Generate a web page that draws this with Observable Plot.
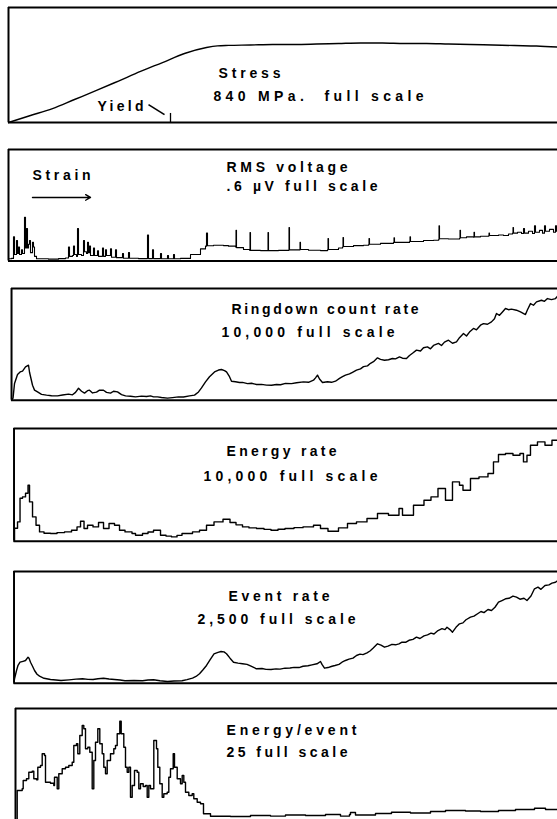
<!DOCTYPE html>
<html>
<head>
<meta charset="utf-8">
<script src="https://cdn.jsdelivr.net/npm/d3@7"></script>
<script src="https://cdn.jsdelivr.net/npm/@observablehq/plot@0.6"></script>
<style>
  html, body { margin: 0; padding: 0; background: #fff; overflow: hidden; }
  body { position: relative; width: 557px; height: 819px; }
  svg text { white-space: pre; }
</style>
</head>
<body>
<script>
// ---------- DATA (strain in chart units from the left border; values in physical units) ----------
const panelTitles = ["Stress", "RMS voltage", "Ringdown count rate", "Energy rate", "Event rate", "Energy/event"];
const fullScaleLabels = ["840 MPa.  full scale", ".6 \u00b5V full scale", "10,000 full scale", "10,000 full scale", "2,500 full scale", "25 full scale"];
const fullScales = [840, 0.6, 10000, 10000, 2500, 25];

// Stress (MPa)
const stressStrain = [0, 22, 44, 66, 88, 110, 132, 154, 176, 198, 209, 220, 242, 264, 286, 308, 330, 352, 374, 396, 418, 440, 462, 484, 506, 528, 549];
const stressMPa = [0, 51, 102, 168, 234, 303, 373, 438, 504, 548, 560, 563, 566, 570, 570, 573, 577, 581, 581, 577, 577, 573, 570, 566, 562, 559, 551];
const yieldStrain = 162;
const yieldLabel = "Yield";
const strainLabel = "Strain";

// RMS voltage (µV)
const rmsStrain = [0,3,5,6,8,9,10,11,13,14,16,17,18,19,20,21,22,24,25,26,28,40,50,57,60,61,64,65,66,68,69,70,73,75,76,78,79,80,81,82,85,86,89,90,94,95,97,98,102,103,107,108,114,115,120,121,130,139,140,144,145,152,153,159,160,165,166,172,182,192,197,198,199,205,215,220,227,227.5,228,235,241,241.5,242,252,259,259.5,260,270,280,280.5,281,286,291,291.5,292,300,312,319,319.5,320,330,334,334.5,335,345,355,360,360.5,361,372,385,385.5,386,401,401.5,402,415,425,430,430.5,431,440,451,451.5,452,458,465,465.5,466,472,480,480.5,481,490,495,500,504,504.5,505,509,513,515,516,520,524,526,527,531,534,536,537,541,545,547,548,549];
const rmsVolts = [0.012,0.014,0.13,0.035,0.11,0.04,0.075,0.035,0.06,0.04,0.235,0.07,0.175,0.07,0.09,0.11,0.045,0.10,0.075,0.025,0.012,0.01,0.013,0.016,0.075,0.025,0.03,0.08,0.035,0.025,0.175,0.035,0.03,0.11,0.05,0.04,0.10,0.045,0.08,0.03,0.07,0.03,0.055,0.025,0.07,0.025,0.06,0.03,0.065,0.02,0.06,0.018,0.04,0.015,0.045,0.015,0.013,0.14,0.013,0.06,0.013,0.04,0.012,0.03,0.012,0.035,0.012,0.014,0.035,0.065,0.08,0.15,0.082,0.085,0.083,0.08,0.075,0.165,0.072,0.062,0.058,0.153,0.057,0.056,0.056,0.153,0.056,0.057,0.058,0.18,0.06,0.06,0.06,0.10,0.062,0.058,0.056,0.06,0.121,0.062,0.07,0.075,0.126,0.078,0.083,0.085,0.088,0.121,0.09,0.095,0.10,0.125,0.10,0.105,0.13,0.105,0.11,0.112,0.115,0.19,0.12,0.118,0.122,0.165,0.125,0.13,0.128,0.155,0.13,0.133,0.135,0.15,0.137,0.14,0.137,0.145,0.15,0.18,0.15,0.155,0.148,0.175,0.15,0.16,0.148,0.19,0.155,0.165,0.15,0.19,0.16,0.17,0.155,0.19,0.16,0.16];

// Ringdown count rate (counts)
const ringStrain = [0,1.5,3,6,8.6,11,14,17,18,21,23,26,30,35,40,46,51,57,61,64,67,70,73,76,78,81,85,88,92,95,99,102,106,110,114,119,124,130,135,139,142,146,150,156,161,167,172,178,183,187,190,194,198,203,207,210,213,215,218,220,224,228,231,236,240,245,250,255,260,265,269,274,280,285,292,297,302,304,306,308,311,316,320,324,328,331,334,338,341,345,349,352,356,359,362,366,369,373,377,381,384,388,391,395,398,401,405,409,412,416,419,422,427,430,433,437,441,445,448,452,455,458,462,465,469,472,476,480,483,485,488,491,494,497,500,505,509,514,516,519,522,525,530,533,536,540,544,546];
const ringCounts = [0,180,1500,2300,2530,2600,2980,3130,2500,1340,900,740,520,450,400,385,460,540,480,700,1070,800,630,850,895,650,720,900,895,700,630,800,740,500,385,350,300,360,330,390,300,295,240,180,230,295,280,385,450,740,1100,1640,2100,2530,2700,2750,2650,2530,2100,1700,1650,1580,1590,1480,1520,1405,1420,1350,1343,1400,1380,1500,1480,1560,1640,1600,1790,2000,2240,1900,1580,1650,1600,1700,1950,2100,2240,2350,2500,2690,2800,3000,3070,3300,3450,3790,3650,3580,3620,3730,3700,3880,3760,3730,4000,4200,4480,4400,4700,4770,4600,4900,5080,4900,5200,5370,5100,5220,5600,5970,5750,6100,6420,6300,6710,6850,6800,7010,7300,7760,7600,7900,8210,8100,8150,8055,7900,7670,8100,8650,8500,8800,8950,8850,9100,9000,9100,9300];

// Energy rate
const energyStrain = [0,0.5,3.5,6,8.5,11.5,14,15.5,18.5,22,25.5,30,36.5,43,50.5,57.5,63,66.5,70,73.5,79,84.5,89.5,95,100.5,105.5,111,118,121.5,128.5,134,139.5,146.5,152,157.5,163,168,178.5,185.5,192.5,200,209,216,222,228.5,235,242.5,250,257,264,271,280,289,299.5,306.5,314,324.5,333.5,342.5,353,363.5,374.5,385,388.5,399.5,410,417,424,431.5,438.5,445.5,449,456.5,465,474,479.5,484.5,491.5,499,506,509.5,513,516.5,523.5,531,538,544.5];
const energyRate = [0,1153,1712,3815,3931,4259,4969,3487,2156,1420,825,700,683,760,825,976,1269,1775,1127,1420,1269,1659,1127,1571,1420,976,825,683,532,683,820,976,532,450,382,520,683,825,976,1420,1712,1952,1659,1450,1269,1180,1127,1050,976,1060,1127,1200,1269,1420,1127,887,1180,1571,1712,2014,2458,2307,2901,2307,3194,3638,3931,4676,3638,5262,4969,4525,5563,5705,6007,7036,7693,7782,7631,7782,7036,7631,8518,8811,8518,8962,8811];

// Event rate
const eventStrain = [0,0.5,2.5,4,6,9,11.5,14,15,16.5,18.5,20.5,23,25.5,30,36.5,42,47,55,62,68.5,74,79,84,89.5,95,100.5,106,111,120,128.5,134,139.5,146,153.5,160,168,173,178.5,182,185.5,189,192.5,196,200,204,207,210,212.5,216,219.5,224,228.5,233,237,242.5,248,252,257,262,266,271,276,280,285,289,294,298,303,306.5,308,310.5,314,318,321,325,328,331.5,335,339,342.5,346,349,353,356,359,363.5,367,370.5,374,378,381.5,385,388,392,395,399,402.5,406,410,413.5,417,420,424,428,431,433,436,438.5,442,445.5,449,452,456.5,460,464,467,470,474,477.5,481,484.5,488,491.5,495,499,502.5,506,510,513,517,520.5,524,527,531,535,538,541.5,544];
const eventRate = [0,100,284,400,470,490,508,582,560,470,380,284,200,157,110,83,70,60,75,90,98,85,83,100,112,95,83,70,54,60,54,70,76,55,38,50,54,80,112,150,210,300,396,520,658,690,709,700,658,560,470,450,434,420,380,322,330,310,307,320,315,336,340,355,350,380,390,410,434,486,420,336,350,380,396,420,470,508,540,560,620,650,640,680,720,780,882,850,806,830,870,859,880,920,918,960,980,1029,1000,1060,1083,1120,1100,1179,1220,1200,1253,1200,1141,1250,1329,1350,1420,1477,1500,1560,1605,1580,1650,1627,1700,1813,1850,1889,1900,1950,1925,1880,1900,1851,1950,2113,2150,2100,2187,2200,2240,2260,2300];

// Energy / event
const epeStrain = [0,1.7,6.7,7.7,11,13.3,16.7,18.3,21,22.3,25,26.7,29,30,35,38.3,39,41.7,43.3,46.7,50,53.3,56.7,58.3,61,62.3,64.3,66.7,68.3,70,72.3,74.3,76.7,78.3,80,82.3,84.3,86.7,88.3,90,91.7,95,98.3,100,101.7,104.3,105.7,108.3,110,111.7,113.3,115,116.7,119,121.7,123.3,125,127.7,130,131.7,133.3,135,138.3,141,142.3,144.3,146.7,148.3,151.7,153.3,155,157.7,159,161.7,165,166.7,168.3,170,173.3,176.7,178.3,181.7,185,188,195,215,235,255,270,290,310,325,334,335,340,360,376,395,415,430,450,465,483,500,519,530,543];
const epeValue = [0,6.86,7.23,9.07,9.45,10.9,11.13,9.45,9.22,12.01,12.39,14.98,14.6,8.69,8.47,7.96,9.8,7.23,10.55,11.66,12.01,12.39,13.12,16.81,17.19,14.98,19.02,21.24,20.51,16.08,16.43,15.33,7.23,13.49,17.54,20.51,17.19,14.98,12.01,10.55,13.49,14.98,16.08,16.81,19.4,22.19,19.4,16.43,12.01,10.9,12.01,5.38,7.96,11.28,10.9,7.23,8.34,7.74,7.96,5.38,7.96,7.23,17.92,16.08,12.01,8.34,5.38,6.13,6.48,9.8,11.66,14.98,12.01,9.45,8.34,10.18,8.69,6.48,5.75,6.13,5.02,4.27,3.92,1.7,1.17,1.1,1.33,1.2,1.44,1.33,1.55,1.2,1.55,1.99,1.44,1.77,2.06,1.88,2.21,2.43,2.32,2.21,2.43,2.65,2.94,2.65,2.81];

// ---------- LAYOUT ----------
const SVG_W = 575; // wider than the 557px window so the boxes run off the right edge, as in the scan
const FONT = {fontFamily: "Liberation Sans, Arial, sans-serif", fontSize: 14, fontWeight: "bold", fill: "black"};
const LINE = {stroke: "black", strokeWidth: 1.4};

function panel(i, top, bottom, left, marks, labels) {
  const yMax = fullScales[i];
  const textMarks = labels.map(([text, dx, dy]) =>
    Plot.text([text], {text: d => d, frameAnchor: "top-left", textAnchor: "start", lineAnchor: "bottom", dx, dy, ...FONT}));
  const svg = Plot.plot({
    width: SVG_W,
    height: bottom - top + 4,
    marginTop: 2, marginBottom: 2, marginLeft: left, marginRight: 0,
    x: {domain: [0, SVG_W - left], axis: null},
    y: {domain: [0, yMax], axis: null},
    style: {maxWidth: "none", overflow: "visible"},
    marks: [
      Plot.ruleY([0, yMax], {stroke: "black", strokeWidth: 2}),
      Plot.ruleX([0], {stroke: "black", strokeWidth: 2}),
      ...marks,
      ...textMarks
    ]
  });
  svg.style.position = "absolute";
  svg.style.left = "0px";
  svg.style.top = (top - 2) + "px";
  svg.style.width = SVG_W + "px";
  document.body.append(svg);
  // spread each label to its width in the scan (plotter lettering is widely spaced)
  const widths = new Map(labels.map(([text, , , w]) => [text, w]));
  svg.querySelectorAll("text").forEach(t => {
    const w = widths.get(t.textContent);
    if (!w) return;
    t.style.letterSpacing = "0px";
    const base = t.getComputedTextLength();
    const n = t.textContent.length;
    t.style.letterSpacing = Math.max(0, (w - base) / (n - 1)) + "px";
  });
}

// 1 — Stress
panel(0, 7, 122, 8, [
  Plot.line(stressStrain, {x: d => d, y: (d, i) => stressMPa[i], curve: "monotone-x", ...LINE}),
  Plot.ruleX([yieldStrain], {y1: 0, y2: 66, stroke: "black", strokeWidth: 1.3}),
  Plot.link([yieldStrain], {x1: d => d - 22, y1: 131, x2: d => d - 6, y2: 58, stroke: "black", strokeWidth: 1.6})
], [
  [panelTitles[0], 210, 70, 62],
  [fullScaleLabels[0], 205, 93, 210],
  [yieldLabel, 89, 103, 46]
]);

// 2 — RMS voltage
panel(1, 149, 260.5, 8, [
  Plot.line(rmsStrain, {x: d => d, y: (d, i) => rmsVolts[i], curve: "step-after", stroke: "black", strokeWidth: 1.1}),
  Plot.arrow([strainLabel], {x1: 24, x2: 82, y1: 0.342, y2: 0.342, stroke: "black", strokeWidth: 1.4, headLength: 6})
], [
  [strainLabel, 24, 30, 58],
  [panelTitles[1], 218, 22.7, 121],
  [fullScaleLabels[1], 218, 41, 151]
]);

// 3 — Ringdown count rate
panel(2, 288.3, 400, 11, [
  Plot.line(ringStrain, {x: d => d, y: (d, i) => ringCounts[i], ...LINE})
], [
  [panelTitles[2], 220, 26, 187],
  [fullScaleLabels[2], 210, 48.4, 173]
]);

// 4 — Energy rate
panel(3, 428.3, 541, 13.5, [
  Plot.line(energyStrain, {x: d => d, y: (d, i) => energyRate[i], curve: "step-after", ...LINE})
], [
  [panelTitles[3], 212.5, 27.4, 110],
  [fullScaleLabels[3], 189.5, 52.7, 174]
]);

// 5 — Event rate
panel(4, 571, 682.7, 13.5, [
  Plot.line(eventStrain, {x: d => d, y: (d, i) => eventRate[i], ...LINE})
], [
  [panelTitles[4], 214.5, 30, 101],
  [fullScaleLabels[4], 183.5, 52.3, 158]
]);

// 6 — Energy / event
panel(5, 708, 821, 15, [
  Plot.line(epeStrain, {x: d => d, y: (d, i) => epeValue[i], curve: "step-after", ...LINE})
], [
  [panelTitles[5], 211, 26.3, 130],
  [fullScaleLabels[5], 211, 48.7, 121]
]);
</script>
</body>
</html>
